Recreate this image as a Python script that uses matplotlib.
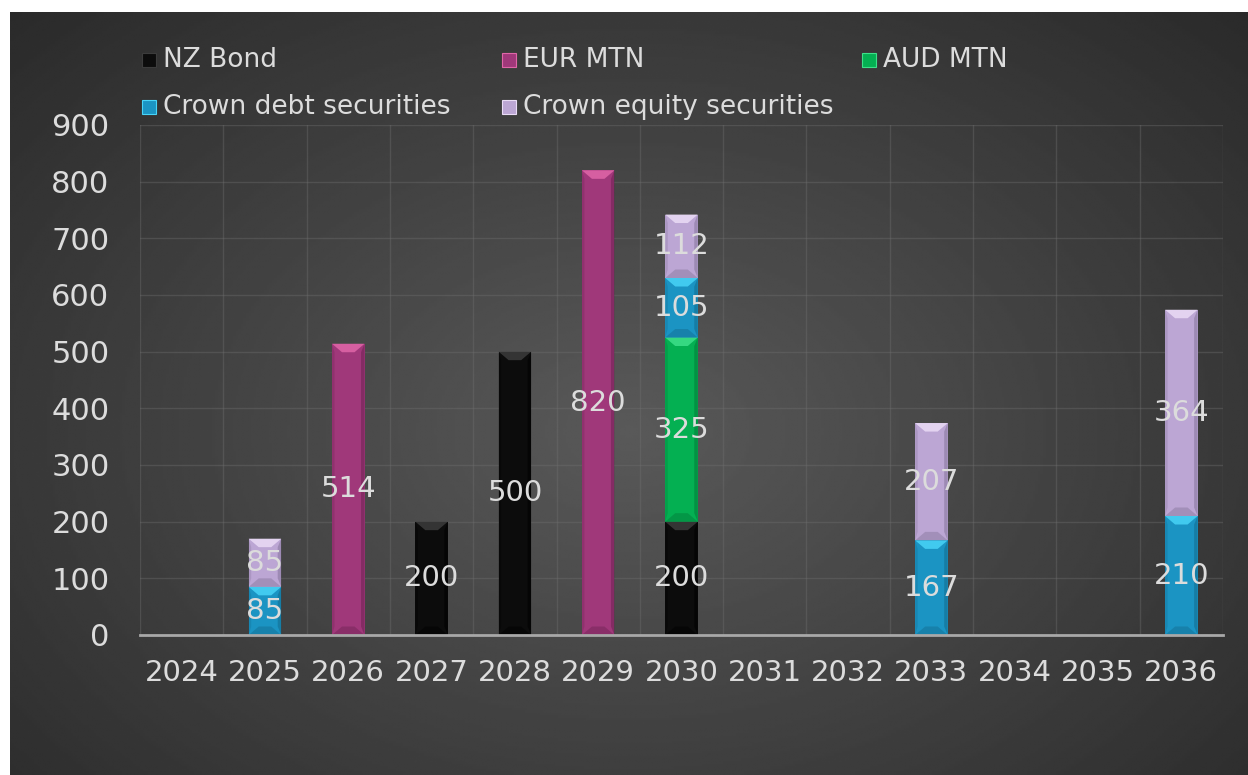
import numpy as np
import matplotlib
matplotlib.use('Agg')
import matplotlib.pyplot as plt
from matplotlib.patches import Rectangle, Polygon

years = ['2024', '2025', '2026', '2027', '2028', '2029', '2030',
         '2031', '2032', '2033', '2034', '2035', '2036']
nz_bond = [0, 0, 0, 200, 500, 0, 200, 0, 0, 0, 0, 0, 0]
eur_mtn = [0, 0, 514, 0, 0, 820, 0, 0, 0, 0, 0, 0, 0]
aud_mtn = [0, 0, 0, 0, 0, 0, 325, 0, 0, 0, 0, 0, 0]
crown_debt = [0, 85, 0, 0, 0, 0, 105, 0, 0, 167, 0, 0, 210]
crown_equity = [0, 85, 0, 0, 0, 0, 112, 0, 0, 207, 0, 0, 364]

series = ['NZ Bond', 'EUR MTN', 'AUD MTN', 'Crown debt securities', 'Crown equity securities']
values = [nz_bond, eur_mtn, aud_mtn, crown_debt, crown_equity]
# base, light bevel, dark bevel
colors = ['#0c0c0c', '#a0387a', '#04b052', '#1b94c3', '#bca6d4']
lights = ['#3c3c3c', '#e066a8', '#3ee08a', '#48d4f8', '#eadcf6']
darks = ['#000000', '#6e2253', '#037a38', '#136b8e', '#84749a']

txt = '#dcdcdc'

fig = plt.figure(figsize=(12.48, 7.75), dpi=100)
fig.patch.set_facecolor('white')

# dark radial background panel
bg = fig.add_axes([10 / 1248, 0, 1238 / 1248, 763 / 775])
yy, xx = np.mgrid[0:1:300j, 0:1:480j]
r = np.sqrt(((xx - 0.5) / 0.8) ** 2 + ((yy - 0.55) / 0.9) ** 2)
shade = 0.35 - 0.21 * np.clip(r, 0, 1)
bg.imshow(shade, cmap='gray', vmin=0, vmax=1, aspect='auto',
          extent=[0, 1, 0, 1], interpolation='bilinear')
bg.set_axis_off()

ax = fig.add_axes([140 / 1248, 140 / 775, 1083 / 1248, 510 / 775])
ax.set_facecolor('none')

x = np.arange(len(years))
w = 0.39
bottom = np.zeros(len(years))
bx = 0.12   # bevel width in x units
by = 15     # bevel height in data units
for vals, c, lc, dc in zip(values, colors, lights, darks):
    vals = np.array(vals, dtype=float)
    bars = ax.bar(x, vals, w, bottom=bottom, color=c, zorder=3, linewidth=0)
    for p, v in zip(bars.patches, vals):
        if v <= 0:
            continue
        x0, y0 = p.get_x(), p.get_y()
        x1, y1 = x0 + p.get_width(), y0 + p.get_height()
        h = min(by, v / 2)
        # side shading
        ax.add_patch(Polygon([(x1, y0), (x1, y1), (x1 - bx * 0.35, y1 - h), (x1 - bx * 0.35, y0 + h)],
                             closed=True, color=dc, alpha=0.55, lw=0, zorder=4))
        ax.add_patch(Polygon([(x0, y0), (x0, y1), (x0 + bx * 0.25, y1 - h), (x0 + bx * 0.25, y0 + h)],
                             closed=True, color=dc, alpha=0.3, lw=0, zorder=4))
        # top bevel
        ax.add_patch(Polygon([(x0, y1), (x1, y1), (x1 - bx, y1 - h), (x0 + bx, y1 - h)],
                             closed=True, color=lc, alpha=0.85, lw=0, zorder=4))
        # bottom bevel
        ax.add_patch(Polygon([(x0, y0), (x1, y0), (x1 - bx, y0 + h), (x0 + bx, y0 + h)],
                             closed=True, color=dc, alpha=0.45, lw=0, zorder=4))
        ax.text(x0 + p.get_width() / 2, y0 + v / 2, f'{int(v)}', ha='center', va='center',
                color=txt, fontsize=21, zorder=6)
    bottom += vals

ax.set_xlim(-0.5, len(years) - 0.5)
ax.set_ylim(0, 900)
ax.set_yticks(np.arange(0, 901, 100))
ax.set_xticks(x)
ax.set_xticklabels(years)
ax.set_xticks(np.arange(-0.5, len(years), 0.5), minor=True)
ax.grid(True, axis='x', which='minor', color='#707070', alpha=0.38, lw=1, zorder=1)
ax.grid(True, axis='y', which='major', color='#707070', alpha=0.38, lw=1, zorder=1)
ax.tick_params(axis='both', which='both', length=0, colors=txt, labelsize=21)
ax.tick_params(axis='y', labelsize=22, pad=22)
ax.tick_params(axis='x', pad=17)
for s in ['top', 'right', 'left']:
    ax.spines[s].set_visible(False)
ax.spines['bottom'].set_color('#a8a8a8')
ax.spines['bottom'].set_linewidth(2)
ax.spines['bottom'].set_zorder(5)

# legend, laid out like the original (3 columns, 2 rows)
leg_pos = [(142, 60), (502, 60), (862, 60), (142, 107), (502, 107)]
for (px, py), name, c, lc in zip(leg_pos, series, colors, lights):
    fig.patches.append(Rectangle((px / 1248, 1 - (py + 7) / 775), 14 / 1248, 14 / 775,
                                 transform=fig.transFigure, facecolor=c,
                                 edgecolor=lc, lw=0.8))
    fig.text((px + 21) / 1248, 1 - py / 775, name, color=txt, fontsize=19,
             va='center', ha='left')

fig.savefig('out.png', dpi=100, facecolor=fig.get_facecolor())
